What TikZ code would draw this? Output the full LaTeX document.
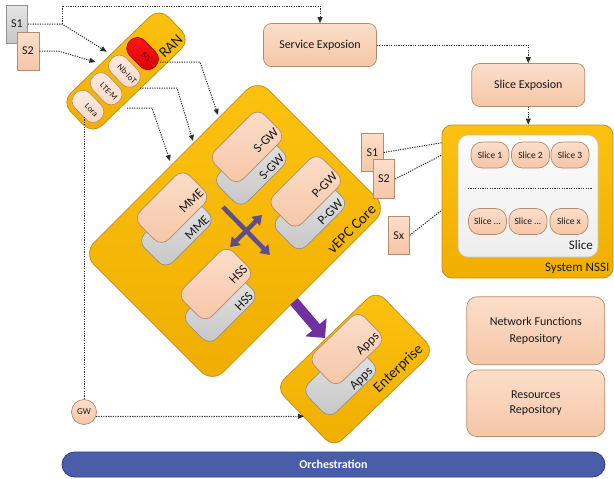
\documentclass[tikz,border=0pt]{standalone}
\usepackage{fontspec}
\setmainfont{Carlito}
\usetikzlibrary{arrows.meta}
\definecolor{goldA}{RGB}{252,194,16}
\definecolor{goldB}{RGB}{240,174,0}
\definecolor{goldD}{RGB}{196,146,20}
\definecolor{peachA}{RGB}{252,222,202}
\definecolor{peachB}{RGB}{245,198,166}
\definecolor{peachD}{RGB}{180,140,110}
\definecolor{grayA}{RGB}{230,230,230}
\definecolor{grayB}{RGB}{198,198,198}
\definecolor{grayD}{RGB}{145,145,145}
\definecolor{redA}{RGB}{255,25,25}
\definecolor{redB}{RGB}{215,0,0}
\definecolor{redD}{RGB}{150,0,0}
\definecolor{pillA}{RGB}{253,236,224}
\definecolor{pillB}{RGB}{246,216,196}
\definecolor{blueF}{RGB}{74,93,168}
\definecolor{blueD}{RGB}{48,62,125}
\definecolor{purA}{RGB}{112,48,160}
\definecolor{purB}{RGB}{94,76,142}
\definecolor{dotc}{RGB}{45,45,45}
\definecolor{txt}{RGB}{25,25,25}
\definecolor{whA}{RGB}{252,252,252}
\definecolor{whB}{RGB}{238,238,238}
\tikzset{
  goldbox/.style={draw=goldD, line width=0.8pt, top color=goldA, bottom color=goldB, inner sep=0pt},
  peachbox/.style={draw=peachD, line width=0.7pt, top color=peachA, bottom color=peachB, inner sep=0pt},
  graybox/.style={draw=grayD, line width=0.7pt, top color=grayA, bottom color=grayB, inner sep=0pt},
  card/.style={minimum width=70pt, minimum height=40pt, rounded corners=10pt},
  ranpill/.style={draw=peachD, line width=0.6pt, top color=pillA, bottom color=pillB, minimum width=21pt, minimum height=36pt, rounded corners=10pt, inner sep=0pt},
  redpill/.style={draw=redD, line width=0.6pt, top color=redA, bottom color=redB, minimum width=21pt, minimum height=36pt, rounded corners=10pt, inner sep=0pt},
  slicepill/.style={peachbox, minimum width=38pt, minimum height=26pt, rounded corners=11pt, font=\fontsize{9.5}{11}\selectfont, text=txt},
  dotl/.style={draw=dotc, line width=1pt, dash pattern=on 1.2pt off 1.2pt},
  myarr/.style={-{Triangle[length=6pt,width=5pt]}},
  tA/.style={font=\fontsize{8.5}{10}\selectfont, text=txt, inner sep=0pt},
  tB/.style={font=\fontsize{12}{14}\selectfont, text=txt, inner sep=0pt},
  tC/.style={font=\fontsize{13}{15}\selectfont, text=txt, inner sep=0pt},
  tD/.style={font=\fontsize{15}{17}\selectfont, text=txt, inner sep=0pt},
}
\begin{document}
\begin{tikzpicture}[x=1pt,y=-1pt]
\path[use as bounding box, fill=white] (0,0) rectangle (614,479);

% top-left S1, S2
\node[graybox, minimum width=21pt, minimum height=38pt, tB] (s1) at (17,24) {S1};
\node[peachbox, minimum width=22pt, minimum height=38pt, tB] (s2) at (28,51) {S2};

% RAN
\begin{scope}[shift={(126,71)}, rotate=44, transform shape]
  \node[goldbox, minimum width=136pt, minimum height=45pt, rounded corners=13pt] (ran) at (0,0) {};
  \node[redpill] (p5g) at (24,-1) {};
  \node[ranpill] (pnb) at (-1.3,-1) {};
  \node[ranpill] (plte) at (-26.6,-1) {};
  \node[ranpill] (plora) at (-51.9,-1) {};
  \node[tA, rotate=-90, text=red!35!black] (t5g) at (24,4) {5G};
  \node[tA, rotate=-90] (tnb) at (-1.3,3) {Nb-IoT};
  \node[tA, rotate=-90] (tlte) at (-26.6,3) {LTE-M};
  \node[tA, rotate=-90] (tlora) at (-51.9,4) {Lora};
  \node[tD, anchor=base east] (tran) at (63,18) {RAN};
\end{scope}

% vEPC core
\begin{scope}[shift={(235,231)}, rotate=45, transform shape]
  \node[goldbox, minimum width=247pt, minimum height=183pt, rounded corners=16pt] (vepc) at (0,0) {};
  \node[graybox, card] (mmeG) at (-41,-42) {};
  \node[peachbox, card] (mmeP) at (-28,-61) {};
  \node[tC, anchor=base east] (mmeGt) at (-10,-25) {MME};
  \node[tC, anchor=base east] (mmePt) at (5,-48) {MME};
  \node[graybox, card] (sgwG) at (55,-32) {};
  \node[peachbox, card] (sgwP) at (68,-51) {};
  \node[tC, anchor=base east] (sgwGt) at (86,-15) {S-GW};
  \node[tC, anchor=base east] (sgwPt) at (101,-38) {S-GW};
  \node[graybox, card] (hssG) at (-64,43) {};
  \node[peachbox, card] (hssP) at (-51,24) {};
  \node[tC, anchor=base east] (hssGt) at (-33,60) {HSS};
  \node[tC, anchor=base east] (hssPt) at (-18,37) {HSS};
  \node[graybox, card] (pgwG) at (65,41) {};
  \node[peachbox, card] (pgwP) at (78,22) {};
  \node[tC, anchor=base east] (pgwGt) at (96,58) {P-GW};
  \node[tC, anchor=base east] (pgwPt) at (111,35) {P-GW};
  \node[tD, anchor=base east] (vepct) at (115,86) {vEPC Core};
\end{scope}

% Enterprise
\begin{scope}[shift={(355,369)}, rotate=44, transform shape]
  \node[goldbox, minimum width=140pt, minimum height=84pt, rounded corners=12pt] (ent) at (0,0) {};
  \node[graybox, card] (appsG) at (-18,-2) {};
  \node[peachbox, card] (appsP) at (8,-20) {};
  \node[tC, anchor=base east] (appsGt) at (11,15) {Apps};
  \node[tC, anchor=base east] (appsPt) at (40,-5.5) {Apps};
  \node[tD, anchor=base east] (entt) at (63,34) {Enterprise};
\end{scope}

% service / slice exposion
\node[peachbox, minimum width=113pt, minimum height=43pt, rounded corners=8pt, tB] (svc) at (320,45) {Service Exposion};
\node[peachbox, minimum width=113pt, minimum height=43pt, rounded corners=8pt, tB] (slx) at (528.3,85) {Slice Exposion};

% System NSSI
\node[goldbox, minimum width=171pt, minimum height=153pt, rounded corners=10pt] (nssi) at (527.5,201.5) {};
\node[draw=grayB, line width=0.7pt, top color=whA, bottom color=whB, minimum width=140pt, minimum height=122pt, rounded corners=10pt, inner sep=0pt] (slicebox) at (528,196) {};
\node[slicepill] (sl1) at (490,155) {Slice 1};
\node[slicepill] (sl2) at (530.5,155) {Slice 2};
\node[slicepill] (sl3) at (570,155) {Slice 3};
\node[slicepill] (sl4) at (487.5,221.5) {Slice ...};
\node[slicepill] (sl5) at (528,221.5) {Slice ...};
\node[slicepill] (sl6) at (569,221.5) {Slice x};
\coordinate (dl1) at (468,188.3);
\coordinate (dl2) at (592,188.3);
\draw[dotl] (dl1) -- (dl2);
\node[tC, anchor=base east] (slicet) at (593,249.3) {Slice};
\node[tC, anchor=base east] (nssit) at (609.5,271.3) {System NSSI};

% S1, S2, Sx near NSSI
\node[peachbox, minimum width=21.6pt, minimum height=38.4pt, tB] (s1b) at (372.5,152.5) {S1};
\node[peachbox, minimum width=21.6pt, minimum height=38.4pt, tB] (s2b) at (384,179) {S2};
\node[peachbox, minimum width=21pt, minimum height=37.4pt, tB] (sxb) at (398.8,235.3) {Sx};

% repositories
\node[peachbox, minimum width=138pt, minimum height=68pt, rounded corners=10pt, tB, align=center, font=\fontsize{12}{16.5}\selectfont] (nfr) at (535.8,330.8) {Network Functions\\Repository};
\node[peachbox, minimum width=138pt, minimum height=66.5pt, rounded corners=10pt, tB, align=center, font=\fontsize{12}{15.5}\selectfont] (rr) at (535.8,403.3) {Resources\\Repository};

% orchestration
\node[draw=blueD, line width=0.8pt, fill=blueF, minimum width=543pt, minimum height=25pt, rounded corners=12.5pt, inner sep=0pt, text=white, font=\fontsize{12}{14}\selectfont\bfseries] (orch) at (333.5,464.5) {Orchestration};

% GW
\node[circle, peachbox, minimum size=25pt, tA, font=\fontsize{9}{10}\selectfont] (gw) at (84,412) {GW};

% cross arrows in vEPC
\coordinate (cr1a) at (223,207);
\coordinate (cr1b) at (270,255);
\coordinate (cr2a) at (230,247);
\coordinate (cr2b) at (262,215);
\draw[draw=purB, line width=4.5pt, -{Triangle[length=9pt,width=12pt]}] (cr1a) -- (cr1b);
\draw[draw=purB, line width=4.5pt, {Triangle[length=9pt,width=12pt]}-{Triangle[length=9pt,width=12pt]}] (cr2a) -- (cr2b);

% vEPC -> Enterprise
\coordinate (ea1) at (294,301.5);
\coordinate (ea2) at (325,338);
\draw[draw=purA, line width=10pt, -{Triangle[length=14pt,width=27pt]}] (ea1) -- (ea2);

% dotted connectors
\coordinate (j1) at (62,24);
\coordinate (ranA) at (106.7,51.7);
\coordinate (c1) at (62,6);
\coordinate (c2) at (320,6);
\draw[dotl, myarr] (s1.east) -- (j1) -- (ranA);
\draw[dotl, myarr] (j1) -- (c1) -- (c2) -- (svc.north);
\coordinate (j2) at (58,51);
\coordinate (ranB) at (95.5,62);
\draw[dotl, myarr] (s2.east) -- (j2) -- (ranB);

\coordinate (r1s) at (160,62);
\coordinate (r1b) at (200,62);
\coordinate (r1e) at (218,115);
\draw[dotl, myarr] (r1s) -- (r1b) -- (r1e);
\coordinate (r2s) at (140,88);
\coordinate (r2b) at (177,88);
\coordinate (r2e) at (193,141);
\draw[dotl, myarr] (r2s) -- (r2b) -- (r2e);
\coordinate (r3s) at (127,108);
\coordinate (r3b) at (152,108);
\coordinate (r3e) at (170,161);
\draw[dotl, myarr] (r3s) -- (r3b) -- (r3e);

\coordinate (lg) at (84,117);
\draw[dotl] (lg) -- (gw.north);
\coordinate (ge) at (304,416.3);
\draw[dotl, myarr] (gw.-20) -- (ge);

\coordinate (sv2) at (528.3,45);
\draw[dotl, myarr] (svc.east) -- (sv2) -- (slx.north);
\draw[dotl, myarr] (slx.south) -- (slx.south |- nssi.north);

\coordinate (n1) at (442,142.7);
\coordinate (n2) at (442,155);
\coordinate (n3) at (442,210);
\draw[dotl] (s1b.east) -- (n1);
\draw[dotl] (s2b.east) -- (n2);
\draw[dotl] (sxb.east) -- (n3);
\end{tikzpicture}
\end{document}
